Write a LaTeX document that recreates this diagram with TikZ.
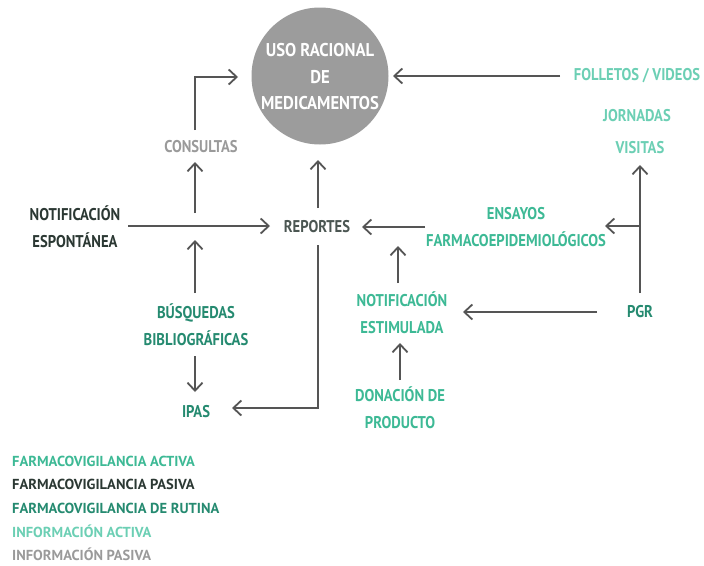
\documentclass[tikz,border=0pt]{standalone}
\usepackage{fontspec}
\setmainfont{PT Sans}[FakeStretch=0.86, BoldFont={PT Sans Bold}, BoldFeatures={FakeStretch=0.86}]
\newfontfamily\legfont{PT Sans Bold}
\newfontfamily\circfont{PT Sans Bold}[FakeStretch=0.9]
\usetikzlibrary{arrows.meta,calc}
\definecolor{factiva}{HTML}{3DB995}
\definecolor{fpasiva}{HTML}{2B3833}
\definecolor{frutina}{HTML}{258A70}
\definecolor{iactiva}{HTML}{6CCFB4}
\definecolor{ipasiva}{HTML}{9A9A9A}
\definecolor{arrowc}{HTML}{555555}
\definecolor{circlec}{HTML}{9C9C9C}
\begin{document}
\begin{tikzpicture}[x=1pt,y=-1pt,
  lbl/.style={font=\fontsize{17}{27}\selectfont\bfseries, align=center, inner sep=0pt},
  leg/.style={font=\fontsize{14.5}{16}\selectfont\legfont, anchor=west, inner sep=0pt},
  arr/.style={draw=arrowc, line width=1.8pt, -{Straight Barb[length=8pt,width=15pt,line width=1.8pt]}}]
\useasboundingbox (0,0) rectangle (704,565);
% central circle
\node[circle, fill=circlec, minimum size=137pt, inner sep=0pt] (uso) at (320,76) {};
\node[lbl, text=white, font=\fontsize{18.5}{26.5}\selectfont\circfont] (usot) at (320,77) {USO RACIONAL\\DE\\MEDICAMENTOS};
% labels
\node[lbl, text=iactiva] (folletos) at (637,76) {FOLLETOS / VIDEOS};
\node[lbl, text=iactiva] (jornadas) at (637,116) {JORNADAS};
\node[lbl, text=iactiva] (visitas) at (640,148) {VISITAS};
\node[lbl, text=ipasiva] (consultas) at (201,147) {CONSULTAS};
\node[lbl, text=fpasiva] (notesp) at (75,227) {NOTIFICACIÓN\\ESPONTÁNEA};
\node[lbl, text=fpasiva!85!white] (reportes) at (317,227) {REPORTES};
\node[lbl, text=factiva] (ensayos) at (516,227) {ENSAYOS\\FARMACOEPIDEMIOLÓGICOS};
\node[lbl, text=frutina] (busq) at (196,325) {BÚSQUEDAS\\BIBLIOGRÁFICAS};
\node[lbl, text=frutina] (ipas) at (196,412) {IPAS};
\node[lbl, text=factiva] (notest) at (402,313) {NOTIFICACIÓN\\ESTIMULADA};
\node[lbl, text=frutina] (pgr) at (640,312) {PGR};
\node[lbl, text=factiva] (donacion) at (400,408) {DONACIÓN DE\\PRODUCTO};
% legend
\node[leg, text=factiva] (l1) at (12,461) {FARMACOVIGILANCIA ACTIVA};
\node[leg, text=fpasiva] (l2) at (12,484) {FARMACOVIGILANCIA PASIVA};
\node[leg, text=frutina] (l3) at (12,508) {FARMACOVIGILANCIA DE RUTINA};
\node[leg, text=iactiva] (l4) at (12,531) {INFORMACIÓN ACTIVA};
\node[leg, text=ipasiva] (l5) at (12,554) {INFORMACIÓN PASIVA};
% helper coordinates
\coordinate (c1) at (195,130);
\coordinate (c2) at (238,77);
\coordinate (j1) at (195,213);
\coordinate (c3) at (195,162);
\coordinate (j2) at (195,240);
\coordinate (b1) at (195,293);
\coordinate (b2) at (195,356);
\coordinate (i1) at (195,392);
\coordinate (r1) at (318,208);
\coordinate (u1) at (318,160);
\coordinate (r2) at (318,245);
\coordinate (i2) at (232,408);
\coordinate (n1) at (128,226);
\coordinate (r3) at (270,226);
\coordinate (e1) at (425,227);
\coordinate (r4) at (362,227);
\coordinate (s1) at (398,283);
\coordinate (j3) at (398,246);
\coordinate (d1) at (400,380);
\coordinate (s2) at (400,343);
\coordinate (p1) at (597,312);
\coordinate (s3) at (463,312);
\coordinate (p2) at (640,293);
\coordinate (v1) at (640,165);
\coordinate (p3) at (640,226);
\coordinate (e2) at (605,226);
\coordinate (f1) at (560,76);
\coordinate (u2) at (393,76);
% connectors
\draw[arr] (c1) |- (c2);
\draw[arr] (j1) -- (c3);
\draw[arr] (n1) -- (r3);
\draw[arr] (b1) -- (j2);
\draw[arr] (b2) -- (i1);
\draw[arr] (r1) -- (u1);
\draw[arr] (r2) |- (i2);
\draw[arr] (e1) -- (r4);
\draw[arr] (s1) -- (j3);
\draw[arr] (d1) -- (s2);
\draw[arr] (p1) -- (s3);
\draw[arr] (p2) -- (v1);
\draw[arr] (p3) -- (e2);
\draw[arr] (f1) -- (u2);
\end{tikzpicture}
\end{document}
